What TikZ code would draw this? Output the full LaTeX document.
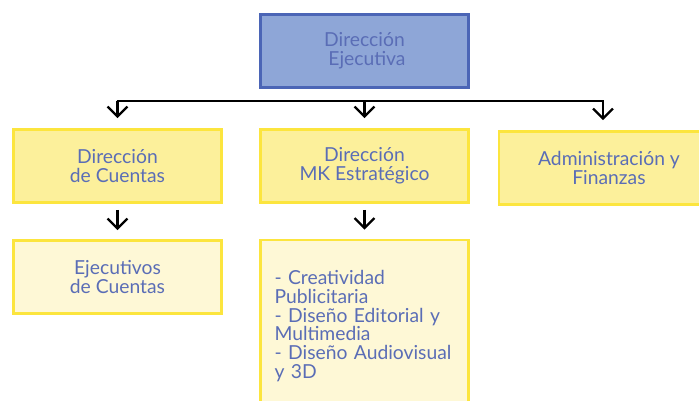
\documentclass[tikz,border=0pt]{standalone}
\usepackage{fontspec}
\setmainfont{Lato}
\usetikzlibrary{arrows.meta}
\definecolor{jefeazul}{HTML}{8EA6D7}
\definecolor{bordeazul}{HTML}{4B65B6}
\definecolor{textoazul}{HTML}{5A6DB6}
\definecolor{amarillo}{HTML}{FCF09B}
\definecolor{amarilloclaro}{HTML}{FEF8D6}
\definecolor{bordeamarillo}{HTML}{FCE53E}
\tikzset{
  caja/.style={draw=bordeamarillo,line width=2.6pt,fill=amarillo,text=textoazul,
    minimum width=\boxwidth pt,minimum height=\boxheight pt,align=center,inner sep=0pt,
    font=\boxfontsize},
  cajaclara/.style={caja,fill=amarilloclaro},
  cajajefe/.style={caja,draw=bordeazul,fill=jefeazul,line width=2.2pt},
  flecha/.style={line width=2.3pt,-{Straight Barb[length=10pt,width=20pt,line width=2.3pt]}}
}
\providecommand{\boxfontsize}{\fontsize{19.3pt}{18.8pt}\selectfont}
\begin{document}
\begin{tikzpicture}[x=1pt,y=-1pt]
    \pgfmathsetmacro{\boxwidth}{208}
    \pgfmathsetmacro{\boxheight}{73}
    \pgfmathsetmacro{\busy}{101}
    \useasboundingbox[fill=white] (0,0) rectangle (699,401);
    % jefatura
    \node[cajajefe] (ejecutiva) at (364.5,51) {Dirección\\ \ Ejecutiva};
    % segundo nivel
    \node[caja] (cuentas) at (117.5,166) {Dirección\\de Cuentas};
    \node[caja] (mk) at (364.5,166) {Dirección\\MK Estratégico};
    \node[caja,minimum width=220pt] (finanzas) at (609,168) {Administración y\\Finanzas};
    % tercer nivel
    \node[cajaclara] (ejecutivos) at (117.5,277) {Ejecutivos\\de Cuentas};
    \node[cajaclara,minimum height=172pt,text width=180pt,align=left] (areas) at (364.5,326)
    {- Creatividad\\Publicitaria\\- Diseño Editorial y\\Multimedia\\- Diseño Audiovisual\\y 3D};
    % conectores
    \coordinate (busizq) at (cuentas.north |- 0,\busy);
    \coordinate (buscen) at (mk.north |- 0,\busy);
    \coordinate (busder) at (603,\busy);
    \draw[line width=2.3pt] ([xshift=-1pt]busizq) -- ([xshift=1pt]busder);
    \draw[flecha,shorten >=10pt] (busizq) -- (cuentas.north);
    \draw[flecha,shorten >=10pt] (buscen) -- (mk.north);
    \draw[flecha,shorten >=10pt] (busder) -- (busder |- finanzas.north);
    \draw[flecha,shorten <=6pt,shorten >=9pt] (cuentas.south) -- (ejecutivos.north);
    \draw[flecha,shorten <=6pt,shorten >=9pt] (mk.south) -- (areas.north);
\end{tikzpicture}
\end{document}
